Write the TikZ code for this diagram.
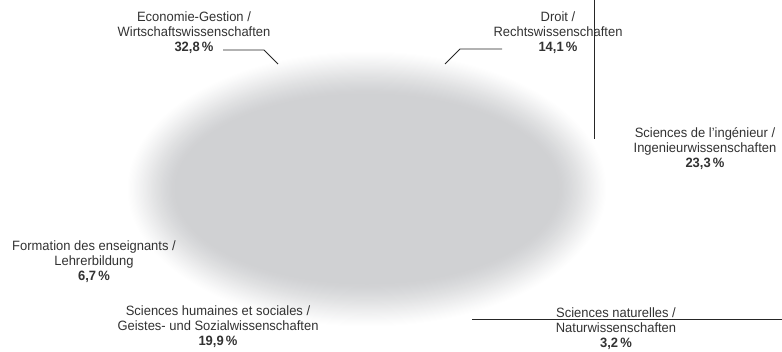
\documentclass[tikz,border=0pt]{standalone}
\usepackage{fontspec}
\setmainfont{Liberation Sans}[FakeStretch=0.96]
\definecolor{ellg}{RGB}{208,209,211}
\definecolor{txt}{RGB}{50,50,50}
\tikzset{
  lbl/.style={align=center, inner sep=0pt, text=txt, font=\fontsize{13.5bp}{15bp}\selectfont},
  leader/.style={draw=black!85, line width=0.9bp}
}
\begin{document}
\begin{tikzpicture}[x=1bp,y=-1bp]
\useasboundingbox (0,0) rectangle (782,351);
\foreach \i in {0,...,40}{
  \pgfmathsetmacro{\t}{\i/40}
  \pgfmathsetmacro{\p}{100*(1.6*\t-0.6*\t*\t)}
  \pgfmathsetmacro{\p}{min(100,\p*\p/100*0.5+\p*0.5)}
  \pgfmathsetmacro{\rx}{240-48*\t}
  \pgfmathsetmacro{\ry}{138-43*\t}
  \fill[ellg!\p!white] (367,189) ellipse [x radius=\rx, y radius=\ry];
}
\node[lbl] (eco) at (194,33) {Economie-Gestion /\\Wirtschaftswissenschaften\\\textbf{32,8\,\%}};
\node[lbl] (dro) at (558,33) {Droit /\\Rechtswissenschaften\\\textbf{14,1\,\%}};
\node[lbl] (ing) at (705,149) {Sciences de l'ingénieur /\\Ingenieurwissenschaften\\\textbf{23,3\,\%}};
\node[lbl] (for) at (94,262) {Formation des enseignants /\\Lehrerbildung\\\textbf{6,7\,\%}};
\node[lbl] (hum) at (218,327) {Sciences humaines et sociales /\\Geistes- und Sozialwissenschaften\\\textbf{19,9\,\%}};
\node[lbl] (nat) at (616,329) {Sciences naturelles /\\Naturwissenschaften\\\textbf{3,2\,\%}};
\coordinate (e1) at (223,50); \coordinate (e2) at (264,50); \coordinate (e3) at (278,64);
\coordinate (d1) at (502,49); \coordinate (d2) at (460,49); \coordinate (d3) at (445,64);
\coordinate (v1) at (594,0); \coordinate (v2) at (594,139);
\coordinate (n1) at (472,319); \coordinate (n2) at (782,319);
\draw[leader] (e1) -- (e2) -- (e3);
\draw[leader] (d1) -- (d2) -- (d3);
\draw[leader] (v1) -- (v2);
\draw[leader] (n1) -- (n2);
\end{tikzpicture}
\end{document}
